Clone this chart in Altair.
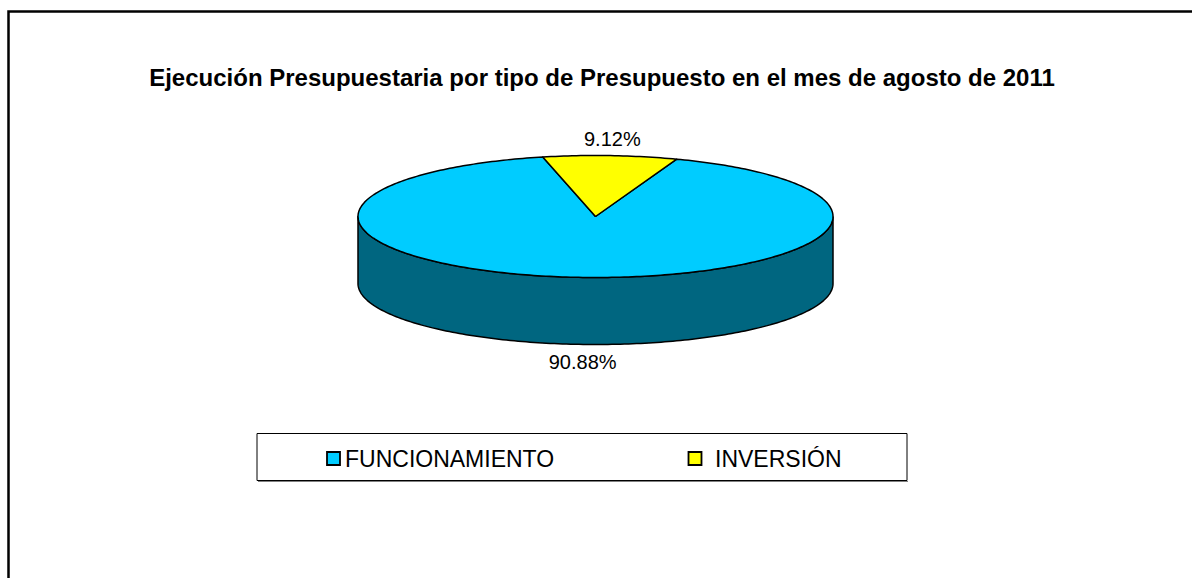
import math
import altair as alt
import pandas as pd

# ---------------- data ----------------
title_text = "Ejecución Presupuestaria por tipo de Presupuesto en el mes de agosto de 2011"
categories = ["FUNCIONAMIENTO", "INVERSIÓN"]
percentages = [90.88, 9.12]
value_labels = ["90.88%", "9.12%"]

# ---------------- layout ----------------
W, H = 1192, 578
CX, CY = 595.5, 216.5      # centre of the pie's top face (px)
RX, RY = 237.5, 61.0       # radii of the top ellipse (px)
DEPTH = 67.0               # thickness of the pie (px)
START = 20.0               # first slice starts 20 deg clockwise from 12 o'clock
FONT = "Liberation Sans"

top_colors = {"FUNCIONAMIENTO": "#00CCFF", "INVERSIÓN": "#FFFF00"}
side_colors = {"FUNCIONAMIENTO": "#006680", "INVERSIÓN": "#808000"}


def pt(a_deg, dy=0.0):
    a = math.radians(a_deg)
    return CX + RX * math.sin(a), CY - RY * math.cos(a) + dy


def arc(a0, a1, dy=0.0):
    n = max(2, int(abs(a1 - a0)) + 1)
    return [pt(a0 + (a1 - a0) * i / (n - 1), dy) for i in range(n)]


top_rows, side_rows, label_rows = [], [], []
total = sum(percentages)
a = START
for cat, pct, lab in zip(categories, percentages, value_labels):
    span = 360.0 * pct / total
    a0, a1 = a, a + span
    a = a1
    # top face
    pts = [(CX, CY)] + arc(a0, a1) + [(CX, CY)]
    for i, (x, y) in enumerate(pts):
        top_rows.append({"part": cat + "|top", "key": cat + "|top", "seq": i, "x": x, "y": y})
    # visible front side: angles between 90 and 270 (mod 360)
    for k in (-1, 0, 1):
        s = max(a0, 90 + 360 * k)
        e = min(a1, 270 + 360 * k)
        if e > s:
            upper = arc(s, e)
            lower = arc(e, s, DEPTH)
            poly = upper + lower + [upper[0]]
            for i, (x, y) in enumerate(poly):
                side_rows.append({"part": f"{cat}|side{k}", "key": cat + "|side",
                                  "seq": i, "x": x, "y": y})
    # value label
    m = (a0 + a1) / 2
    lx, ly = pt(m)
    if math.cos(math.radians(m)) < 0:
        ly += DEPTH + 19
    else:
        ly -= 16
    label_rows.append({"x": lx + 2, "y": ly, "text": lab})

top_df = pd.DataFrame(top_rows)
side_df = pd.DataFrame(side_rows)
label_df = pd.DataFrame(label_rows)

xs = alt.Scale(domain=[0, W])
ys = alt.Scale(domain=[0, H], reverse=True)
fill_keys = [c + "|top" for c in categories] + [c + "|side" for c in categories]
fill_range = [top_colors[c] for c in categories] + [side_colors[c] for c in categories]
fill_scale = alt.Scale(domain=fill_keys, range=fill_range)

# outer frame
frame = alt.Chart(pd.DataFrame({"k": [0]})).mark_rect(
    fillOpacity=0, stroke="black", strokeWidth=2.5
).encode(x=alt.value(8.5), x2=alt.value(W + 20), y=alt.value(11.5), y2=alt.value(H + 20))


def pie_layer(df):
    return alt.Chart(df).mark_line(
        filled=True, stroke="black", strokeWidth=1.5, strokeJoin="round"
    ).encode(
        x=alt.X("x:Q", scale=xs, axis=None),
        y=alt.Y("y:Q", scale=ys, axis=None),
        color=alt.Color("key:N", scale=fill_scale, legend=None),
        detail="part:N",
        order="seq:Q",
    )


sides = pie_layer(side_df)
tops = pie_layer(top_df)

labels = alt.Chart(label_df).mark_text(
    font=FONT, fontSize=20, color="black", baseline="middle", align="center"
).encode(
    x=alt.X("x:Q", scale=xs, axis=None),
    y=alt.Y("y:Q", scale=ys, axis=None),
    text="text:N",
)

title = alt.Chart(pd.DataFrame({"t": [title_text]})).mark_text(
    font=FONT, fontSize=24, fontWeight="bold", color="black",
    align="center", baseline="alphabetic"
).encode(x=alt.value(602), y=alt.value(86), text="t:N")

# legend
LX0, LX1, LY0, LY1 = 257, 907, 433.5, 480.5
legend_shadow = alt.Chart(pd.DataFrame({"k": [0]})).mark_rule(
    stroke="#808080", strokeWidth=1
).encode(x=alt.value(LX0 + 1), x2=alt.value(LX1 + 1), y=alt.value(LY1 + 1))
legend_box = alt.Chart(pd.DataFrame({"k": [0]})).mark_rect(
    fill="white", stroke="black", strokeWidth=1
).encode(x=alt.value(LX0), x2=alt.value(LX1), y=alt.value(LY0), y2=alt.value(LY1))

square_x = [327, 688.5]
text_x = [345, 715]
leg_layers = []
for i, cat in enumerate(categories):
    sq = alt.Chart(pd.DataFrame({"k": [0]})).mark_rect(
        fill=top_colors[cat], stroke="black", strokeWidth=1.8
    ).encode(x=alt.value(square_x[i]), x2=alt.value(square_x[i] + 13),
             y=alt.value(452), y2=alt.value(465))
    tx = alt.Chart(pd.DataFrame({"t": [cat]})).mark_text(
        font=FONT, fontSize=23, color="black", align="left", baseline="alphabetic"
    ).encode(x=alt.value(text_x[i]), y=alt.value(466.5), text="t:N")
    leg_layers += [sq, tx]

chart = alt.layer(frame, sides, tops, labels, title, legend_shadow, legend_box,
                  *leg_layers).properties(
    width=W, height=H, padding=0, autosize="none"
).configure_view(stroke=None)

chart.save("out.html", embed_options={"renderer": "svg", "actions": False})
